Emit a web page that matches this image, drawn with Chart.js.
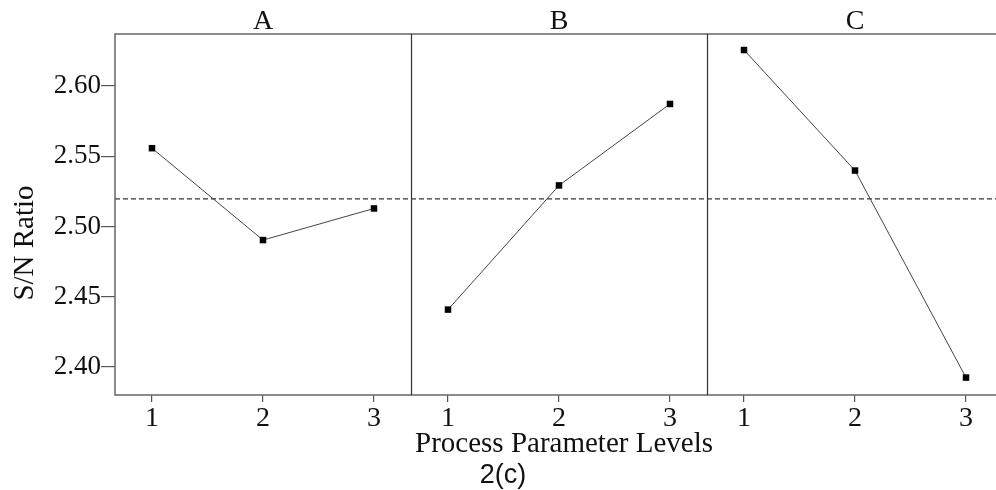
<!DOCTYPE html>
<html>
<head>
<meta charset="utf-8">
<script src="https://cdn.jsdelivr.net/npm/chart.js@4.4.1/dist/chart.umd.min.js"></script>
<style>
  html, body { margin: 0; padding: 0; background: #fff; overflow: hidden; }
  #wrap { position: relative; width: 1010px; height: 490px; }
</style>
</head>
<body>
<div id="wrap"><canvas id="myChart" width="1010" height="490"></canvas></div>
<script>
// main effects plot for S/N ratios
const factors = ['A', 'B', 'C'];
const levels = [1, 2, 3];
const snA = [2.5557, 2.4903, 2.5128];
const snB = [2.4408, 2.5292, 2.5872];
const snC = [2.6256, 2.5398, 2.3924];
const yTicks = [2.40, 2.45, 2.50, 2.55, 2.60];
const meanSN = 2.5196;

const panelWidth = 8 / 3;
const xMin = 2 / 3;
const xMax = xMin + panelWidth * 3;

function panelPoints(values, panel) {
    return values.map((v, i) => ({ x: levels[i] + panel * panelWidth, y: v }));
}

const lineStyle = {
    borderColor: '#444',
    borderWidth: 1,
    pointStyle: 'rect',
    pointRadius: 4.6,
    pointBackgroundColor: '#000',
    pointBorderColor: '#000',
    pointBorderWidth: 0,
    fill: false,
    tension: 0
};

const framePlugin = {
    id: 'frame',
    afterDraw(chart) {
        const c = chart.ctx;
        const a = chart.chartArea;
        const x = chart.scales.x;
        c.save();
        c.strokeStyle = '#666';
        c.lineWidth = 1.5;
        c.strokeRect(a.left, a.top, a.right - a.left, a.bottom - a.top);
        // panel dividers
        c.strokeStyle = '#333';
        c.lineWidth = 1.2;
        for (let p = 1; p < factors.length; p++) {
            const px = Math.round(x.getPixelForValue(xMin + p * panelWidth)) + 0.5;
            c.beginPath();
            c.moveTo(px, a.top);
            c.lineTo(px, a.bottom);
            c.stroke();
        }
        // panel titles
        c.fillStyle = '#111';
        c.font = '28px "Liberation Serif", serif';
        c.textAlign = 'center';
        c.textBaseline = 'alphabetic';
        factors.forEach((f, p) => {
            const cx = x.getPixelForValue(2 + p * panelWidth);
            c.fillText(f, cx, 29);
        });
        // axis titles
        c.font = '29px "Liberation Serif", serif';
        c.fillText('Process Parameter Levels', 564, 452);
        c.save();
        c.translate(33, 243);
        c.rotate(-Math.PI / 2);
        c.fillText('S/N Ratio', 0, 0);
        c.restore();
        c.font = '27px "Liberation Sans", Arial, sans-serif';
        c.fillText('2(c)', 503, 483);
        c.restore();
    }
};

const ctx = document.getElementById('myChart');

new Chart(ctx, {
    type: 'line',
    data: {
        datasets: [
            { label: 'A', data: panelPoints(snA, 0), ...lineStyle },
            { label: 'B', data: panelPoints(snB, 1), ...lineStyle },
            { label: 'C', data: panelPoints(snC, 2), ...lineStyle },
            {
                label: 'Mean',
                data: [{ x: xMin, y: meanSN }, { x: xMax, y: meanSN }],
                borderColor: '#333',
                borderWidth: 1.2,
                borderDash: [5, 3],
                pointRadius: 0
            }
        ]
    },
    options: {
        responsive: false,
        animation: false,
        events: [],
        layout: { padding: { top: 34, right: 7, left: 0, bottom: 0 } },
        plugins: {
            legend: { display: false },
            tooltip: { enabled: false }
        },
        scales: {
            x: {
                type: 'linear',
                min: xMin,
                max: xMax,
                afterFit(scale) { scale.height = 95; },
                afterBuildTicks(scale) {
                    const t = [];
                    factors.forEach((f, p) => levels.forEach(l => t.push({ value: l + p * panelWidth })));
                    scale.ticks = t;
                },
                grid: { drawOnChartArea: false, drawTicks: true, tickLength: 7, color: '#555', lineWidth: 1.2 },
                border: { display: false },
                ticks: {
                    autoSkip: false,
                    maxRotation: 0,
                    padding: 0,
                    color: '#111',
                    font: { family: '"Liberation Serif", serif', size: 28 },
                    callback: (v, i) => String(levels[i % levels.length])
                }
            },
            y: {
                min: 2.38,
                max: 2.637,
                afterFit(scale) { scale.width = 115; },
                afterBuildTicks(scale) {
                    scale.ticks = yTicks.map(v => ({ value: v }));
                },
                grid: { drawOnChartArea: false, drawTicks: true, tickLength: 14, color: '#555', lineWidth: 1.2 },
                border: { display: false },
                ticks: {
                    padding: 0,
                    color: '#111',
                    font: { family: '"Liberation Serif", serif', size: 27 },
                    callback: v => v.toFixed(2)
                }
            }
        }
    },
    plugins: [framePlugin]
});
</script>
</body>
</html>
